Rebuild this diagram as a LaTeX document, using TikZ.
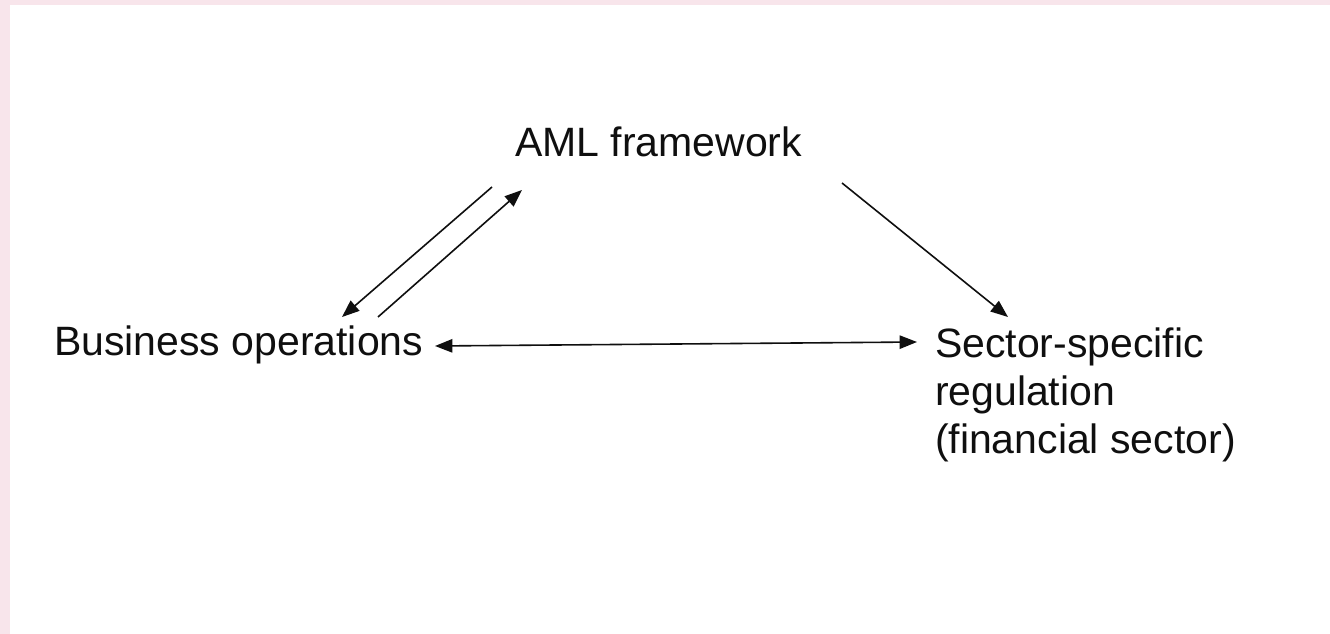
\documentclass[tikz,border=0pt]{standalone}
\usepackage{fontspec}
\setmainfont{Liberation Sans}
\usetikzlibrary{arrows.meta}
\definecolor{bgpink}{RGB}{248,229,235}
\definecolor{ink}{RGB}{15,15,15}
\tikzset{
  lbl/.style={inner sep=0pt, outer sep=0pt, text=ink, font=\fontsize{30.75}{36}\selectfont, align=left},
  conn/.style={draw=ink, line width=1.2pt, -{Triangle[length=13pt,width=10pt]}},
  biconn/.style={draw=ink, line width=1.2pt, {Triangle[length=13pt,width=10pt]}-{Triangle[length=13pt,width=10pt]}}
}
\begin{document}
\begin{tikzpicture}[x=0.75pt,y=-0.75pt]
\useasboundingbox (0,0) rectangle (1330,634);
\fill[bgpink] (0,0) rectangle (1330,634);
\fill[white] (10,5) rectangle (1330,634);
\node[lbl, anchor=base west] (aml) at (515,157) {AML framework};
\node[lbl, anchor=base west] (bus) at (54,355) {Business operations};
\node[lbl, anchor=base west] (sec) at (935,453) {Sector-specific\\regulation\\(financial sector)};
\coordinate (a1s) at (492,187);
\coordinate (a1e) at (342,317);
\coordinate (a2s) at (378,317);
\coordinate (a2e) at (522,190);
\coordinate (a3s) at (842,183);
\coordinate (a3e) at (1008,317);
\coordinate (a4s) at (435,346);
\coordinate (a4e) at (917,342);
\draw[conn] (a1s) -- (a1e);
\draw[conn] (a2s) -- (a2e);
\draw[conn] (a3s) -- (a3e);
\draw[biconn] (a4s) -- (a4e);
\end{tikzpicture}
\end{document}
